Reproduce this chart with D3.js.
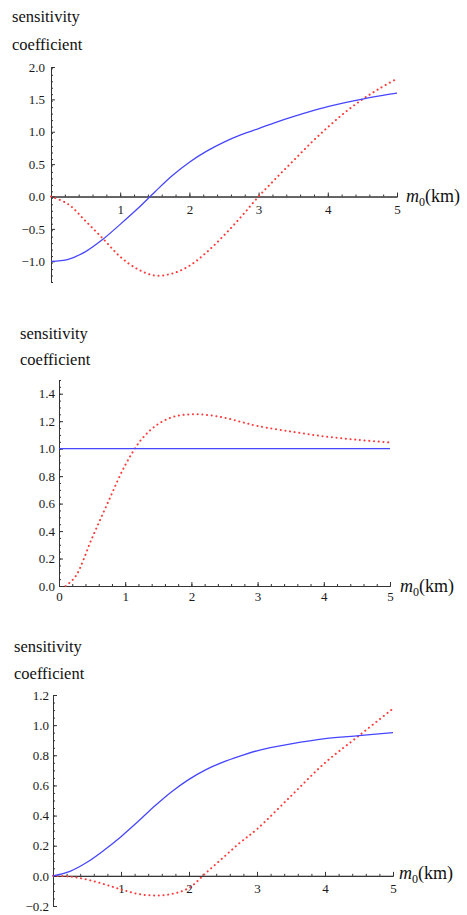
<!DOCTYPE html>
<html lang="en">
<head>
  <meta charset="UTF-8">
  <title>sensitivity coefficients</title>
  <style>
  body { margin: 0; background: #fff; }
  svg { display: block; }
  .lbl { font-family: "Liberation Serif", "Times New Roman", serif; font-size: 16.5px; fill: #111; }
  </style>
</head>
<body>
  <svg width="467" height="915"></svg>
  <script src="https://d3js.org/d3.v7.min.js"></script>
  <script>
  // panel 1 (top)
  var x1 = [0, 0.25, 0.5, 0.75, 1, 1.25, 1.5, 1.75, 2, 2.25, 2.5, 2.75, 3, 3.25, 3.5, 3.75, 4, 4.25, 4.5, 4.75, 5];
  var blue1 = [-1.0, -0.97, -0.85, -0.66, -0.43, -0.19, 0.07, 0.32, 0.53, 0.70, 0.84, 0.955, 1.05, 1.145, 1.232, 1.313, 1.387, 1.45, 1.505, 1.553, 1.595];
  var red1 = [0, -0.12, -0.38, -0.65, -0.93, -1.12, -1.22, -1.19, -1.07, -0.86, -0.6, -0.31, 0.0, 0.28, 0.55, 0.82, 1.07, 1.3, 1.5, 1.67, 1.82];
  var yTicks1 = [-1.0, -0.5, 0.0, 0.5, 1.0, 1.5, 2.0];

  // panel 2 (middle)
  var x2blue = [0, 5];
  var blue2 = [1.0, 1.0];
  var x2red = [0.1, 0.25, 0.5, 0.75, 1, 1.25, 1.5, 1.75, 2, 2.25, 2.5, 2.75, 3, 3.5, 4, 4.5, 5];
  var red2 = [0.0, 0.07, 0.35, 0.62, 0.88, 1.07, 1.18, 1.235, 1.25, 1.245, 1.225, 1.195, 1.165, 1.125, 1.09, 1.065, 1.045];
  var yTicks2 = [0.0, 0.2, 0.4, 0.6, 0.8, 1.0, 1.2, 1.4];

  // panel 3 (bottom)
  var x3 = [0, 0.25, 0.5, 0.75, 1, 1.25, 1.5, 1.75, 2, 2.25, 2.5, 2.75, 3, 3.5, 4, 4.5, 5];
  var blue3 = [0, 0.03, 0.09, 0.17, 0.26, 0.36, 0.465, 0.56, 0.64, 0.705, 0.755, 0.795, 0.83, 0.875, 0.91, 0.93, 0.95];
  var red3 = [0, -0.005, -0.025, -0.055, -0.09, -0.12, -0.13, -0.12, -0.08, 0.02, 0.12, 0.22, 0.31, 0.53, 0.75, 0.93, 1.11];
  var yTicks3 = [-0.2, 0.0, 0.2, 0.4, 0.6, 0.8, 1.0, 1.2];

  var xTicksNo0 = [1, 2, 3, 4, 5];
  var xTicksAll = [0, 1, 2, 3, 4, 5];

  var svg = d3.select("svg");
  var fmt = d => d3.format(".1f")(d).replace("-", "\u2212");

  function panel(o) {
    var g = svg.append("g");
    var x = d3.scaleLinear().domain([0, 5]).range(o.xr);
    var y = d3.scaleLinear().domain(o.yd).range(o.yr);

    // minor ticks first
    g.append("g").attr("transform", "translate(" + x(0) + ",0)")
      .call(d3.axisLeft(y).tickValues(d3.range(o.yd[0], o.yd[1] + 1e-9, o.ym).map(v => +v.toFixed(3)))
        .tickSize(-2).tickFormat(""));
    g.append("g").attr("transform", "translate(0," + y(0) + ")")
      .call(d3.axisBottom(x).tickValues(d3.range(0, 5.0001, 0.2)).tickSize(-2).tickFormat(""));

    g.append("g").attr("transform", "translate(" + x(0) + ",0)")
      .call(d3.axisLeft(y).tickValues(o.yt).tickSizeInner(-4).tickSizeOuter(0).tickPadding(o.ypad).tickFormat(fmt));
    g.append("g").attr("transform", "translate(0," + y(0) + ")")
      .call(d3.axisBottom(x).tickValues(o.xt).tickSizeInner(-4).tickSizeOuter(0).tickPadding(o.xpad).tickFormat(d3.format("d")));

    g.selectAll(".domain, .tick line").attr("stroke", "#333").attr("stroke-width", 1);
    g.selectAll(".tick text")
      .style("font-family", "'Liberation Serif', 'Times New Roman', serif")
      .style("font-size", "13px")
      .style("fill", "#1a1a1a");

    var line = d3.line().x(d => x(d[0])).y(d => y(d[1])).curve(d3.curveCatmullRom.alpha(0.5));

    g.append("path")
      .datum(d3.zip(o.rx, o.ry))
      .attr("d", line)
      .attr("fill", "none")
      .attr("stroke", "#ff3a3a")
      .attr("stroke-width", 2)
      .attr("stroke-linecap", "round")
      .attr("stroke-dasharray", "0.1 4.6");

    g.append("path")
      .datum(d3.zip(o.bx, o.by))
      .attr("d", line)
      .attr("fill", "none")
      .attr("stroke", "#4646ff")
      .attr("stroke-width", 1.3);

    // y label (two lines)
    g.append("text").attr("class", "lbl").attr("x", o.lx).attr("y", o.ly1).text("sensitivity");
    g.append("text").attr("class", "lbl").attr("x", o.lx).attr("y", o.ly2).text("coefficient");

    // x label
    var t = g.append("text").attr("class", "lbl").attr("x", o.mx).attr("y", y(0) + o.mdy)
      .style("font-size", "18px");
    t.append("tspan").style("font-style", "italic").text("m");
    t.append("tspan").attr("dy", 4).style("font-size", "12px").text("0");
    t.append("tspan").attr("dy", -4).text("(km)");
  }

  panel({
    xr: [51, 397], yd: [-1.32, 2.0], yr: [282, 67], ym: 0.1, yt: yTicks1, xt: xTicksNo0,
    bx: x1, by: blue1, rx: x1, ry: red1,
    ypad: 6, xpad: 8, lx: 12, ly1: 22, ly2: 50, mx: 406, mdy: 5
  });

  panel({
    xr: [59, 390], yd: [0, 1.5], yr: [586, 380], ym: 0.05, yt: yTicks2, xt: xTicksAll,
    bx: x2blue, by: blue2, rx: x2red, ry: red2,
    ypad: 4, xpad: 6, lx: 20, ly1: 339, ly2: 365, mx: 400, mdy: 6
  });

  panel({
    xr: [53, 393], yd: [-0.2, 1.2], yr: [906, 695], ym: 0.05, yt: yTicks3, xt: xTicksNo0,
    bx: x3, by: blue3, rx: x3, ry: red3,
    ypad: 4, xpad: 8, lx: 14, ly1: 652, ly2: 679, mx: 399, mdy: 3
  });
  </script>
</body>
</html>
